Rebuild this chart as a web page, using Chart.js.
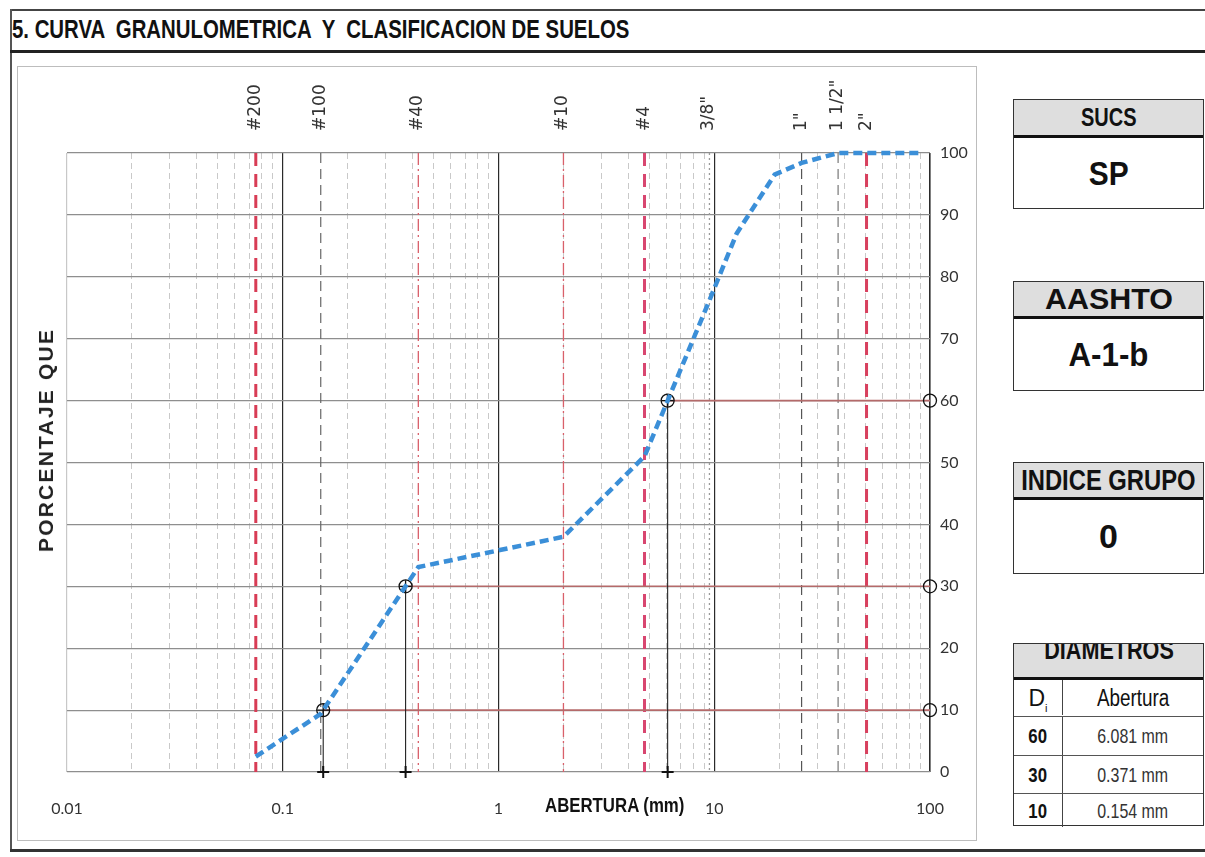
<!DOCTYPE html>
<html><head><meta charset="utf-8">
<script src="https://cdn.jsdelivr.net/npm/chart.js@4.4.1/dist/chart.umd.min.js"></script>
<style>
html,body{margin:0;padding:0;}
body{width:1205px;height:857px;background:#fff;position:relative;overflow:hidden;font-family:"Liberation Sans",Arial,sans-serif;color:#111;}
.abs{position:absolute;}
#c{position:absolute;left:0;top:0;}
.n{display:inline-block;white-space:pre;flex:none;}
.title{left:12px;top:15px;font-weight:bold;font-size:25px;white-space:pre;transform:scaleX(0.815);transform-origin:0 0;}
.box{position:absolute;left:1013px;width:189px;border:1.5px solid #333;background:#fff;}
.hdr{position:absolute;left:0;right:0;top:0;background:#dedede;border-bottom:3px solid #111;display:flex;justify-content:center;align-items:center;font-weight:bold;font-size:25px;overflow:hidden;}
.val{position:absolute;left:0;right:0;bottom:0;display:flex;justify-content:center;align-items:center;font-weight:bold;font-size:34px;}
.row{position:absolute;left:0;right:0;border-top:1.5px solid #555;font-size:20px;}
.row .a{position:absolute;left:0;width:48px;top:0;bottom:0;text-align:center;border-right:1.5px solid #444;}
.row .b{position:absolute;left:49px;right:0;top:0;bottom:0;text-align:center;}
</style></head>
<body>
<div class="abs" style="left:10px;top:9px;width:1195px;height:2px;background:#444;"></div>
<div class="abs" style="left:10px;top:9px;width:2px;height:843px;background:#555;"></div>
<div class="abs title">5. CURVA  GRANULOMETRICA  Y  CLASIFICACION DE SUELOS</div>
<div class="abs" style="left:10px;top:50px;width:1195px;height:3px;background:#222;"></div>
<div class="abs" style="left:17px;top:66px;width:960px;height:775px;border:1px solid #bdbdbd;box-sizing:border-box;"></div>
<div class="abs" style="left:10px;top:849px;width:1195px;height:3px;background:#333;"></div>

<canvas id="c" width="1000" height="857"></canvas>

<div class="abs" style="left:545px;top:793px;font-weight:bold;font-size:21px;transform:scaleX(0.8);transform-origin:0 0;white-space:nowrap;">ABERTURA (mm)</div>
<div class="abs" style="left:46px;top:440px;transform:translate(-50%,-50%) rotate(-90deg);font-weight:bold;font-size:21px;letter-spacing:2.2px;white-space:nowrap;color:#222;">PORCENTAJE QUE</div>

<div class="box" style="top:99px;height:108px;">
  <div class="hdr" style="height:35px;"><span class="n" style="transform:scaleX(0.8);">SUCS</span></div>
  <div class="val" style="height:70px;"><span class="n" id="sucs" style="transform:scaleX(0.88);"></span></div>
</div>
<div class="box" style="top:281px;height:108px;">
  <div class="hdr" style="height:34px;font-size:29px;"><span class="n" style="transform:scaleX(1.05);">AASHTO</span></div>
  <div class="val" style="height:71px;"><span class="n" id="aashto" style="transform:scaleX(0.92);"></span></div>
</div>
<div class="box" style="top:462px;height:110px;">
  <div class="hdr" style="height:34px;font-size:29px;"><span class="n" style="transform:scaleX(0.82);">INDICE GRUPO</span></div>
  <div class="val" style="height:73px;"><span class="n" id="ig"></span></div>
</div>
<div class="box" style="top:643px;height:181px;" id="diam">
  <div class="hdr" style="height:33px;font-size:27px;"><span class="n" style="position:relative;top:-10px;transform:scaleX(0.8);">DIAMETROS</span></div>
  <div class="row" style="top:36px;height:35px;line-height:36px;border-top:none;font-size:23px;"><div class="a">D<sub style="font-size:11px;">i</sub></div><div class="b"><span class="n" style="transform:scaleX(0.82);">Abertura</span></div></div>
</div>

<script>
// ---- data ----
const sieveLabels = ['#200', '#100', '#40', '#10', '#4', '3/8"', '1"', '1 1/2"', '2"'];
const sieveSizes  = [0.075, 0.15, 0.425, 2.0, 4.75, 9.5, 25.4, 37.5, 50.8];
const curveSizes   = [0.075, 0.15, 0.425, 2.0, 4.75, 9.5, 12.7, 19.05, 25.4, 37.5, 50.8, 90];
const curvePassing = [2.5, 9.4, 33.1, 38.0, 51.0, 76.2, 87.0, 96.5, 98.4, 100, 100, 100];
const dPercent = [60, 30, 10];
const dSize    = [6.081, 0.371, 0.154];
const dText    = ['6.081 mm', '0.371 mm', '0.154 mm'];
const xTickValues = [0.01, 0.1, 1, 10, 100];
const xTickLabels = ['0.01', '0.1', '1', '10', '100'];
const yTickValues = [0, 10, 20, 30, 40, 50, 60, 70, 80, 90, 100];
const classSUCS = 'SP';
const classAASHTO = 'A-1-b';
const groupIndex = '0';

// ---- panel text ----
document.getElementById('sucs').textContent = classSUCS;
document.getElementById('aashto').textContent = classAASHTO;
document.getElementById('ig').textContent = groupIndex;
const diam = document.getElementById('diam');
const rowTops = [72, 111, 149];
const rowHeights = [38, 37, 33];
dPercent.forEach((p, i) => {
  const r = document.createElement('div');
  r.className = 'row';
  r.style.top = rowTops[i] + 'px';
  r.style.height = rowHeights[i] + 'px';
  r.style.lineHeight = rowHeights[i] + 'px';
  r.innerHTML = '<div class="a" style="font-weight:bold;font-size:21px;"><span class="n" style="transform:scaleX(0.8);">' + p +
    '</span></div><div class="b" style="color:#333;font-size:21px;"><span class="n" style="transform:scaleX(0.76);">' + dText[i] + '</span></div>';
  diam.appendChild(r);
});

// ---- styles ----
const sieveStyle = {
  '#200':   {color: '#d83c55', width: 3,   dash: [13, 8]},
  '#100':   {color: '#666',    width: 1.2, dash: [10, 6]},
  '#40':    {color: '#d9606a', width: 1.3, dash: [12, 4, 2, 4]},
  '#10':    {color: '#d9606a', width: 1.3, dash: [12, 4, 2, 4]},
  '#4':     {color: '#d84670', width: 3,   dash: [13, 8]},
  '3/8"':   {color: '#999',    width: 1.3, dash: [2, 3]},
  '1"':     {color: '#555',    width: 1.2, dash: [10, 6]},
  '1 1/2"': {color: '#777',    width: 1.2, dash: [10, 6]},
  '2"':     {color: '#d8405e', width: 3,   dash: [13, 8]}
};
const tickFont = {family: 'Lato, "Liberation Sans", sans-serif', size: 16};

const minorTicks = [];
xTickValues.slice(0, -1).forEach(d => { for (let k = 2; k <= 9; k++) minorTicks.push(+(d * k).toPrecision(3)); });

// ---- datasets ----
const ds = [];
ds.push({ // granulometric curve
  data: curveSizes.map((x, i) => ({x, y: curvePassing[i]})),
  showLine: true, borderColor: '#3b8fd8', borderWidth: 4.5, borderDash: [9, 5],
  pointRadius: 0, tension: 0, fill: false, clip: false
});
ds.push({ // crosses on curve
  data: dSize.map((x, i) => ({x, y: dPercent[i]})),
  showLine: false, pointStyle: 'cross', pointRadius: 6, borderColor: '#111', borderWidth: 1.3, clip: false
});
ds.push({ // circles on curve
  data: dSize.map((x, i) => ({x, y: dPercent[i]})),
  showLine: false, pointStyle: 'circle', pointRadius: 6.5, borderColor: '#111', backgroundColor: 'rgba(0,0,0,0)', borderWidth: 1.3, clip: false
});
ds.push({ // circles at right axis
  data: dPercent.map(p => ({x: xTickValues[xTickValues.length - 1], y: p})),
  showLine: false, pointStyle: 'circle', pointRadius: 6.5, borderColor: '#111', backgroundColor: 'rgba(0,0,0,0)', borderWidth: 1.3, clip: false
});
ds.push({ // base crosses
  data: dSize.map(x => ({x, y: 0})),
  showLine: false, pointStyle: 'cross', pointRadius: 6, borderColor: '#111', borderWidth: 2, clip: false
});
dPercent.forEach((p, i) => {
  ds.push({ data: [{x: dSize[i], y: p}, {x: xTickValues[xTickValues.length - 1], y: p}],
    showLine: true, borderColor: '#b46a6a', borderWidth: 1.6, pointRadius: 0, clip: false });
  ds.push({ data: [{x: dSize[i], y: p}, {x: dSize[i], y: 0}],
    showLine: true, borderColor: '#222', borderWidth: 1.1, pointRadius: 0, clip: false });
});
sieveLabels.forEach((lab, i) => {
  const st = sieveStyle[lab];
  ds.push({ data: [{x: sieveSizes[i], y: 100}, {x: sieveSizes[i], y: 0}],
    showLine: true, borderColor: st.color, borderWidth: st.width, borderDash: st.dash, pointRadius: 0, clip: false });
});

new Chart(document.getElementById('c'), {
  type: 'scatter',
  data: {datasets: ds},
  options: {
    responsive: false, animation: false, events: [],
    layout: {padding: {left: 67, right: 20, top: 73, bottom: 35}},
    plugins: {legend: {display: false}, tooltip: {enabled: false}},
    scales: {
      x: {
        type: 'logarithmic', position: 'bottom', min: 0.01, max: 100,
        afterBuildTicks: s => { s.ticks = xTickValues.map(v => ({value: v})); },
        afterFit: s => { s.height = 50; },
        ticks: {callback: (v, i) => xTickLabels[i], font: tickFont, color: '#333', padding: 27, maxRotation: 0, autoSkip: false},
        grid: {color: c => (c.index === 0 ? '#c8c8c8' : '#2a2a2a'), lineWidth: c => (c.index === 4 ? 1.6 : 1.2), drawTicks: false},
        border: {display: false}
      },
      xm: {
        type: 'logarithmic', position: 'bottom', min: 0.01, max: 100,
        afterBuildTicks: s => { s.ticks = minorTicks.map(v => ({value: v})); },
        afterFit: s => { s.height = 0; },
        ticks: {display: false},
        grid: {color: '#c9c9c9', lineWidth: 1, drawTicks: false},
        border: {display: false, dash: [6, 4]}
      },
      xs: {
        type: 'logarithmic', position: 'top', min: 0.01, max: 100,
        afterBuildTicks: s => { s.ticks = sieveSizes.map(v => ({value: v})); },
        afterFit: s => { s.height = 80; },
        ticks: {callback: (v, i) => sieveLabels[i], font: {family: '"DejaVu Sans", sans-serif', size: 17}, color: '#333',
                minRotation: 90, maxRotation: 90, autoSkip: false, padding: 22, labelOffset: 20},
        grid: {display: false, drawTicks: false},
        border: {display: false}
      },
      y: {
        position: 'right', min: 0, max: 100,
        afterBuildTicks: s => { s.ticks = yTickValues.map(v => ({value: v})); },
        afterFit: s => { s.width = 50; },
        ticks: {font: tickFont, color: '#333', padding: 10},
        grid: {color: '#8e8e8e', lineWidth: 1.2, drawTicks: false},
        border: {display: false}
      }
    }
  }
});
</script>
</body></html>
